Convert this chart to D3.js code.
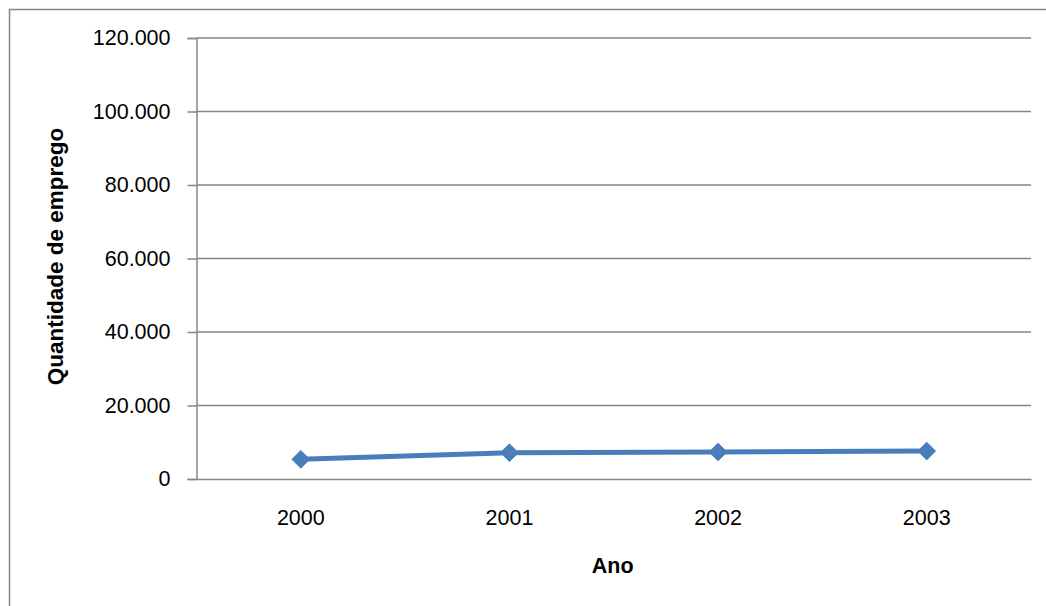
<!DOCTYPE html>
<html>
<head>
<meta charset="utf-8">
<script src="https://cdn.jsdelivr.net/npm/d3@7"></script>
<style>
  html, body { margin: 0; padding: 0; background: #fff; }
  svg { display: block; }
  text { font-family: "Liberation Sans", Arial, sans-serif; fill: #000; }
</style>
</head>
<body>
<svg id="chart" width="1046" height="606"></svg>
<script>
// Employment quantity by year
const years = ["2000", "2001", "2002", "2003"];
const jobs = [5350, 7150, 7350, 7600];
const yTicks = [0, 20000, 40000, 60000, 80000, 100000, 120000];
const yTickLabels = ["0", "20.000", "40.000", "60.000", "80.000", "100.000", "120.000"];
const xTitle = "Ano";
const yTitle = "Quantidade de emprego";

const svg = d3.select("#chart");
const W = 1046, H = 606;
const plot = { left: 196.5, right: 1031, top: 38, bottom: 479 };
const grey = "#868686";
const blue = "#4a7ebb";

// outer chart frame
svg.append("rect")
  .attr("x", 9.5).attr("y", 9.5)
  .attr("width", W + 20).attr("height", H + 20)
  .attr("fill", "#fff").attr("stroke", grey).attr("stroke-width", 1.5);

const x = d3.scaleBand().domain(years).range([plot.left, plot.right]).padding(0);
const y = d3.scaleLinear().domain([0, 120000]).range([plot.bottom, plot.top]);

// horizontal gridlines
svg.append("g")
  .selectAll("line")
  .data(yTicks.filter(d => d > 0))
  .join("line")
  .attr("x1", plot.left).attr("x2", plot.right)
  .attr("y1", d => y(d)).attr("y2", d => y(d))
  .attr("stroke", grey).attr("stroke-width", 1.5);

// y axis
const yAxis = svg.append("g")
  .attr("transform", `translate(${plot.left},0)`)
  .call(d3.axisLeft(y).tickValues(yTicks)
    .tickFormat((d, i) => yTickLabels[i]).tickSize(9).tickPadding(17));
yAxis.select(".domain").attr("stroke", grey).attr("stroke-width", 1.5);
yAxis.selectAll(".tick line").attr("stroke", grey).attr("stroke-width", 1.5);
yAxis.selectAll(".tick text")
  .attr("font-size", 21.5).attr("font-family", "Liberation Sans, Arial, sans-serif")
  .attr("fill", "#000");

// x axis
const xAxis = svg.append("g")
  .attr("transform", `translate(0,${plot.bottom})`)
  .call(d3.axisBottom(x).tickSize(0).tickPadding(31));
xAxis.select(".domain").attr("stroke", grey).attr("stroke-width", 1.5);
xAxis.selectAll(".tick text")
  .attr("font-size", 21.5).attr("font-family", "Liberation Sans, Arial, sans-serif")
  .attr("fill", "#000");

// axis titles
svg.append("text")
  .attr("x", x.range()[0] + (x.range()[1] - x.range()[0]) / 2 - 1)
  .attr("y", 573)
  .attr("text-anchor", "middle")
  .attr("font-size", 21.5).attr("font-weight", "bold")
  .text(xTitle);

svg.append("text")
  .attr("transform", `translate(63,${(plot.top + plot.bottom) / 2 - 2}) rotate(-90)`)
  .attr("text-anchor", "middle")
  .attr("font-size", 22.5).attr("font-weight", "bold")
  .text(yTitle);

// series line
const cx = d => x(d) + x.bandwidth() / 2;
svg.append("path")
  .datum(years.map((yr, i) => [cx(yr), y(jobs[i])]))
  .attr("d", d3.line())
  .attr("fill", "none")
  .attr("stroke", blue).attr("stroke-width", 5)
  .attr("stroke-linejoin", "round");

// diamond markers
svg.append("g")
  .selectAll("path")
  .data(years)
  .join("path")
  .attr("transform", (d, i) => `translate(${cx(d)},${y(jobs[i])})`)
  .attr("d", d3.symbol(d3.symbolDiamond2, 200)())
  .attr("fill", blue)
  .attr("stroke", blue).attr("stroke-width", 1);
</script>
</body>
</html>
